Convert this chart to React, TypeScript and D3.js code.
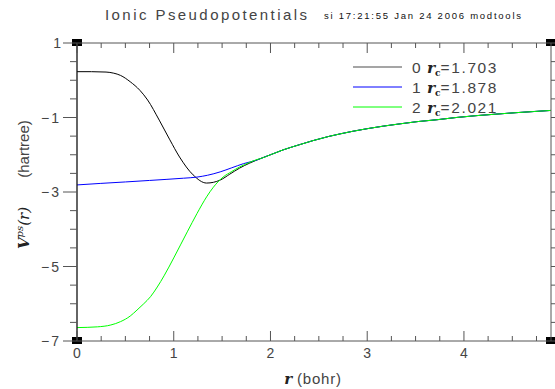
import React from "react";
import * as d3 from "d3";

// ---- data ----
const tailR = [1.9, 2.0, 2.13, 2.3, 2.44, 2.6, 2.72, 2.85, 3.0, 3.17, 3.34, 3.52, 3.72, 3.92, 4.13, 4.33, 4.54, 4.72, 4.9];
const tailV = [-2.10, -2.0, -1.87, -1.73, -1.62, -1.51, -1.44, -1.37, -1.30, -1.23, -1.17, -1.11, -1.06, -1.0, -0.95, -0.91, -0.87, -0.84, -0.81];

const s0R = [0, 0.15, 0.3, 0.38, 0.45, 0.55, 0.65, 0.73, 0.85, 0.96, 1.06, 1.2, 1.34, 1.48, 1.58, 1.68, 1.78, 1.86];
const s0V = [0.23, 0.23, 0.22, 0.19, 0.13, -0.04, -0.27, -0.53, -1.07, -1.60, -2.06, -2.54, -2.76, -2.68, -2.52, -2.36, -2.23, -2.14];

const s1R = [0, 0.24, 0.5, 0.75, 0.93, 1.1, 1.24, 1.35, 1.48, 1.6, 1.72, 1.86];
const s1V = [-2.81, -2.77, -2.73, -2.69, -2.66, -2.63, -2.60, -2.55, -2.46, -2.35, -2.24, -2.14];

const s2R = [0, 0.21, 0.35, 0.45, 0.55, 0.62, 0.69, 0.76, 0.83, 0.9, 1.0, 1.07, 1.14, 1.24, 1.34, 1.41, 1.51, 1.6, 1.68, 1.78, 1.86];
const s2V = [-6.64, -6.62, -6.57, -6.48, -6.33, -6.17, -6.00, -5.81, -5.55, -5.25, -4.77, -4.42, -4.07, -3.58, -3.13, -2.87, -2.60, -2.45, -2.33, -2.21, -2.13];

const seriesNames = ["0", "1", "2"];
const seriesRc = ["1.703", "1.878", "2.021"];
const seriesColors = ["#000000", "#0000ff", "#00ff00"];

const xTickLabels = [0, 1, 2, 3, 4];
const yTickLabels = [1, -1, -3, -5, -7];

const title = "Ionic Pseudopotentials";
const subtitle = "si 17:21:55 Jan 24 2006 modtools";

export default function App() {
  const W = 555, H = 389;
  const x = d3.scaleLinear().domain([0, 4.9]).range([77, 551]);
  const y = d3.scaleLinear().domain([-7, 1]).range([341, 43]);
  const [x0, x1] = x.range();
  const [yb, yt] = y.range();

  const series = [
    { r: s0R.concat(tailR), v: s0V.concat(tailV) },
    { r: s1R.concat(tailR), v: s1V.concat(tailV) },
    { r: s2R.concat(tailR), v: s2V.concat(tailV) },
  ];
  const line = d3
    .line<[number, number]>()
    .x((d) => x(d[0]))
    .y((d) => y(d[1]))
    .curve(d3.curveMonotoneX);

  const xMinor = d3.range(0, 4.9, 0.25);
  const yMinor = d3.range(-7, 1.01, 0.5);
  const axisCol = "#555";
  const textCol = "#444";
  const sans = "'Liberation Sans', Arial, sans-serif";
  const serif = "'DejaVu Serif', 'Liberation Serif', serif";

  return (
    <svg
      width={W}
      height={H}
      style={{ position: "absolute", left: 0, top: 0, background: "#fff" }}
    >
      {/* title */}
      <text x={105} y={19.5} fontFamily={sans} fontSize={15} fill={textCol} textLength={202}>
        {title}
      </text>
      <text x={324} y={19} fontFamily={sans} fontSize={9.5} fill="#111" textLength={197}>
        {subtitle}
      </text>

      {/* curves */}
      <defs>
        <clipPath id="clip">
          <rect x={x0} y={yt} width={x1 - x0} height={yb - yt} />
        </clipPath>
      </defs>
      <g clipPath="url(#clip)">
        {series.map((s, i) => (
          <path
            key={i}
            d={line(s.r.map((r, j) => [r, s.v[j]] as [number, number])) || ""}
            fill="none"
            stroke={seriesColors[i]}
            strokeWidth={1}
          />
        ))}
      </g>

      {/* corner markers */}
      {[
        [x0, yt],
        [x1, yt],
        [x0, yb],
        [x1, yb],
      ].map(([cx, cy], i) => (
        <rect key={i} x={cx - 5} y={cy - 4} width={10} height={7} fill="#000" />
      ))}

      {/* frame */}
      <line x1={x0} x2={x1} y1={yt} y2={yt} stroke={axisCol} />
      <line x1={x0} x2={x1} y1={yb} y2={yb} stroke={axisCol} />
      <line x1={x0} x2={x0} y1={yt} y2={yb} stroke="#111" strokeWidth={1.3} />
      <line x1={x1} x2={x1} y1={yt} y2={yb} stroke={axisCol} />

      {/* x ticks (inward) */}
      {xMinor.map((t, i) => {
        const major = Math.abs(t - Math.round(t)) < 1e-6;
        const len = major ? 10 : 5;
        return (
          <g key={i}>
            <line x1={x(t)} x2={x(t)} y1={yt} y2={yt + len} stroke={axisCol} />
            <line x1={x(t)} x2={x(t)} y1={yb} y2={yb - len} stroke={axisCol} />
          </g>
        );
      })}
      {xTickLabels.map((t) => (
        <text key={t} x={x(t)} y={358} textAnchor="middle" fontFamily={sans} fontSize={14} fill={textCol}>
          {t}
        </text>
      ))}

      {/* y ticks (outward) */}
      {yMinor.map((t, i) => {
        const major = Math.abs(((t + 7) % 2)) < 1e-6;
        const len = major ? 14 : 7;
        return (
          <g key={i}>
            <line x1={x0} x2={x0 - len} y1={y(t)} y2={y(t)} stroke={axisCol} />
            <line x1={x1} x2={x1 + len} y1={y(t)} y2={y(t)} stroke={axisCol} />
          </g>
        );
      })}
      {yTickLabels.map((t) => (
        <text
          key={t}
          x={61}
          y={y(t) + 5}
          textAnchor="end"
          fontFamily={sans}
          fontSize={14}
          fill={textCol}
          letterSpacing={t < 0 ? 2 : 0}
        >
          {t < 0 ? "\u2212" + Math.abs(t) : String(t)}
        </text>
      ))}

      {/* axis titles */}
      <text x={313} y={384} textAnchor="middle" fill={textCol} fontSize={15}>
        <tspan fontFamily={serif} fontStyle="italic" fontWeight="bold" fill="#222">r</tspan>
        <tspan fontFamily={sans} letterSpacing={0.8}> (bohr)</tspan>
      </text>
      <text transform="translate(29,149) rotate(-90)" textAnchor="middle" fontFamily={sans} fontSize={15} fill={textCol}>
        (hartree)
      </text>
      <text transform="translate(29,228) rotate(-90)" textAnchor="middle" fontFamily={serif} fontSize={15} fill="#222">
        <tspan fontStyle="italic" fontWeight="bold">V</tspan>
        <tspan fontSize={10} dy={-6} fontStyle="italic">ps</tspan>
        <tspan dy={6} fontStyle="italic">(r)</tspan>
      </text>

      {/* legend */}
      {seriesNames.map((n, i) => {
        const ly = 67 + i * 20;
        return (
          <g key={n}>
            <line x1={353} x2={402} y1={ly} y2={ly} stroke={seriesColors[i]} strokeWidth={1} opacity={i === 0 ? 0.7 : 1} />
            <text x={412} y={ly + 6} fontSize={15.5} fill={textCol}>
              <tspan fontFamily={sans}>{n} </tspan>
              <tspan fontFamily={serif} fontStyle="italic" fontWeight="bold" fill="#222" dx={2}>r</tspan>
              <tspan fontFamily={serif} fontWeight="bold" fontSize={9} dy={3} fill="#222">c</tspan>
              <tspan fontFamily={sans} dy={-3} letterSpacing={1.6}>={seriesRc[i]}</tspan>
            </text>
          </g>
        );
      })}
    </svg>
  );
}
